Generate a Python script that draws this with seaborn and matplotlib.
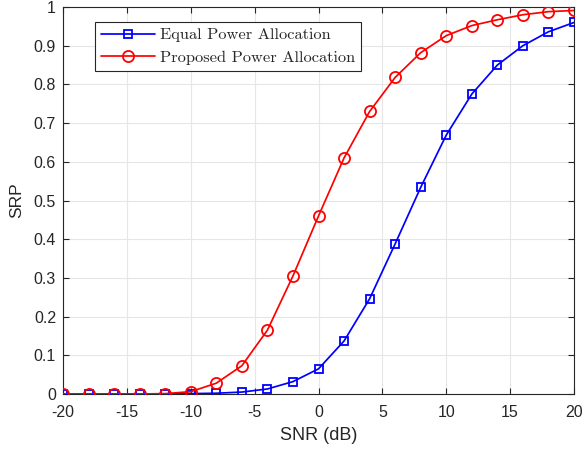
import matplotlib
matplotlib.use("Agg")
import matplotlib.pyplot as plt
import seaborn as sns
import numpy as np
import pandas as pd

snr_db = [-20, -18, -16, -14, -12, -10, -8, -6, -4, -2, 0, 2, 4, 6, 8, 10, 12, 14, 16, 18, 20]
srp_equal = [0.0, 0.0, 0.0, 0.0, 0.0, 0.001, 0.002, 0.005, 0.013, 0.032, 0.065, 0.137, 0.246,
             0.388, 0.534, 0.669, 0.775, 0.850, 0.900, 0.936, 0.960]
srp_proposed = [0.0, 0.0, 0.0, 0.0, 0.001, 0.006, 0.028, 0.073, 0.165, 0.305, 0.460, 0.610, 0.730,
                0.818, 0.882, 0.926, 0.952, 0.967, 0.980, 0.988, 0.991]
series_names = ["Equal Power Allocation", "Proposed Power Allocation"]
x_ticks = [-20, -15, -10, -5, 0, 5, 10, 15, 20]
y_ticks = [0, 0.1, 0.2, 0.3, 0.4, 0.5, 0.6, 0.7, 0.8, 0.9, 1]
y_tick_labels = ["0", "0.1", "0.2", "0.3", "0.4", "0.5", "0.6", "0.7", "0.8", "0.9", "1"]

sns.set_theme(style="whitegrid")
plt.rcParams["font.family"] = ["Liberation Sans", "DejaVu Sans"]

df = pd.DataFrame({
    "SNR": snr_db * 2,
    "SRP": srp_equal + srp_proposed,
    "Scheme": [series_names[0]] * len(snr_db) + [series_names[1]] * len(snr_db),
})

fig = plt.figure(figsize=(5.83, 4.51), dpi=100)
ax = fig.add_axes([63 / 583, 1 - 394 / 451, 511 / 583, 387 / 451])

styles = [("blue", "s", 6.0), ("red", "o", 8.0)]
for name, (color, marker, ms) in zip(series_names, styles):
    sub = df[df["Scheme"] == name]
    sns.lineplot(data=sub, x="SNR", y="SRP", ax=ax, color=color, marker=marker,
                 markersize=ms, markerfacecolor="none", markeredgecolor=color,
                 markeredgewidth=1.3, linewidth=1.25, label=name, zorder=3)

ax.set_xlim(-20, 20)
ax.set_ylim(0, 1)
ax.set_xticks(x_ticks)
ax.set_xticklabels([str(t) for t in x_ticks])
ax.set_yticks(y_ticks)
ax.set_yticklabels(y_tick_labels)
ax.set_xlabel("SNR (dB)", fontsize=13, color="#262626", labelpad=5)
ax.set_ylabel("SRP", fontsize=12.5, color="#262626", labelpad=7)

ax.set_facecolor("white")
ax.grid(True, color="#e6e6e6", linewidth=0.8)
for side in ["top", "bottom", "left", "right"]:
    ax.spines[side].set_visible(True)
    ax.spines[side].set_color("#262626")
    ax.spines[side].set_linewidth(0.8)
ax.tick_params(axis="both", which="both", direction="in", length=4, width=0.8,
               colors="#262626", labelsize=11.5, top=True, right=True,
               bottom=True, left=True, pad=5)
ax.tick_params(axis="x", pad=8)

leg = ax.legend(loc="upper left", bbox_to_anchor=(0.062, 0.962), frameon=True,
                fancybox=False, edgecolor="#262626", framealpha=1,
                prop={"family": "cmr10", "size": 11.8}, handlelength=3.3,
                borderpad=0.38, labelspacing=0.5, handletextpad=0.3, borderaxespad=0)
leg.get_frame().set_linewidth(0.8)

fig.savefig("out.png", dpi=100, facecolor="white")
